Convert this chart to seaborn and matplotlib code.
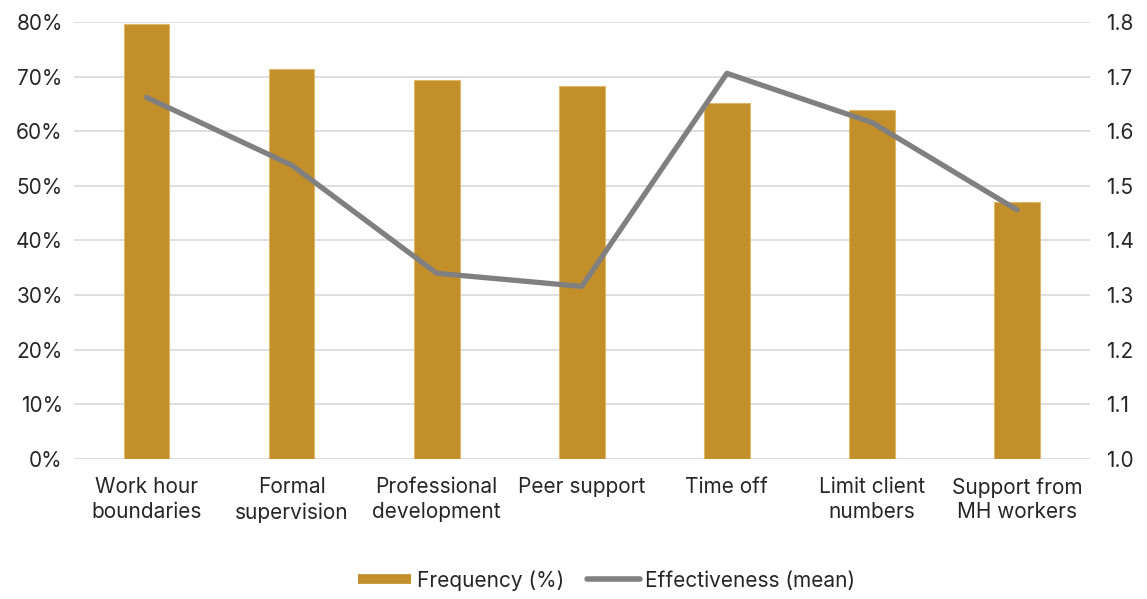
import matplotlib
matplotlib.use('Agg')
import matplotlib.pyplot as plt
import matplotlib.ticker as mtick
from matplotlib.lines import Line2D
import seaborn as sns

# Data
categories = ['Work hour\nboundaries', 'Formal\nsupervision', 'Professional\ndevelopment',
              'Peer support', 'Time off', 'Limit client\nnumbers', 'Support from\nMH workers']
frequency = [79.7, 71.4, 69.4, 68.3, 65.2, 63.9, 47.1]
effectiveness = [1.662, 1.538, 1.340, 1.316, 1.706, 1.616, 1.456]

bar_color = '#C28F2A'
line_color = '#808080'
grid_color = '#D9D9D9'
text_color = '#262626'

sns.set_style('white')
plt.rcParams['font.family'] = ['Inter', 'DejaVu Sans']
plt.rcParams['text.color'] = text_color

fig = plt.figure(figsize=(11.47, 5.99), dpi=100)
ax = fig.add_axes([0.0645, 0.2337, 0.8855, 0.7296])

sns.barplot(x=categories, y=frequency, color=bar_color, width=0.315, ax=ax,
            saturation=1, zorder=2, edgecolor='#DDB86A', linewidth=0.8)
ax.set_ylim(0, 80)
ax.set_yticks(range(0, 81, 10))
ax.yaxis.set_major_formatter(mtick.FuncFormatter(lambda v, p: f'{int(v)}%'))
ax.grid(axis='y', color=grid_color, lw=1.2, zorder=0)
ax.set_axisbelow(True)
ax.set_xlim(-0.5, len(categories) - 0.5)

ax2 = ax.twinx()
sns.lineplot(x=list(range(len(categories))), y=effectiveness, color=line_color,
             lw=3.8, ax=ax2, sort=False, solid_capstyle='round', solid_joinstyle='round')
ax2.set_ylim(1.0, 1.8)
ax2.set_yticks([1.0, 1.1, 1.2, 1.3, 1.4, 1.5, 1.6, 1.7, 1.8])
ax2.yaxis.set_major_formatter(mtick.FormatStrFormatter('%.1f'))

for a in (ax, ax2):
    sns.despine(ax=a, left=True, right=True, top=True, bottom=True)
    a.tick_params(length=0, labelsize=15, colors=text_color)
    a.set_xlabel('')
    a.set_ylabel('')
ax.tick_params(axis='y', pad=8)
ax2.tick_params(axis='y', pad=12)
ax.tick_params(axis='x', pad=13)
for lbl in ax.get_xticklabels():
    lbl.set_verticalalignment('top')
    lbl.set_linespacing(1.3)

handles = [Line2D([], [], color=bar_color, lw=7, solid_capstyle='butt'),
           Line2D([], [], color=line_color, lw=4, solid_capstyle='round')]
fig.legend(handles, ['Frequency (%)', 'Effectiveness (mean)'], loc='center',
           bbox_to_anchor=(0.529, 0.031), ncol=2, frameon=False, fontsize=15,
           handlelength=2.55, handletextpad=0.25, columnspacing=1.1)

fig.savefig('out.png', dpi=100)
